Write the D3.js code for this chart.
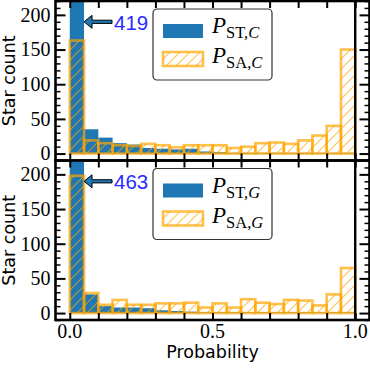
<!DOCTYPE html>
<html>
<head>
<meta charset="utf-8">
<script src="https://cdn.jsdelivr.net/npm/d3@7/dist/d3.min.js"></script>
<style>
body { margin: 0; background: #fff; }
</style>
</head>
<body>
<svg id="chart" width="370" height="370"></svg>
<script>
// histogram bins (left edges), width 0.05
var bins = [0.00, 0.05, 0.10, 0.15, 0.20, 0.25, 0.30, 0.35, 0.40, 0.45,
            0.50, 0.55, 0.60, 0.65, 0.70, 0.75, 0.80, 0.85, 0.90, 0.95];
var binWidth = 0.05;

var stC = [419, 35, 23, 15, 13, 8, 7, 6, 7, 3, 2, 1, 1, 1, 1, 1, 1, 1, 1, 1];
var saC = [163, 19, 15, 12, 11, 14, 12, 9, 12, 12, 12, 8, 10, 15, 16, 14, 19, 26, 40, 150];
var stG = [463, 27, 10, 8, 8, 7, 4, 3, 2, 1, 1, 1, 1, 1, 1, 1, 1, 1, 1, 1];
var saG = [198, 29, 12, 19, 12, 12, 14, 14, 15, 8, 14, 8, 20, 15, 13, 19, 18, 11, 27, 65];

var subLetters = ["C", "G"];
var peakLabels = ["419", "463"];
var yTicks = [0, 50, 100, 150, 200];
var yMinor = [-10, 10, 20, 30, 40, 60, 70, 80, 90, 110, 120, 130, 140, 160, 170, 180, 190, 210, 220];
var xTicks = [0, 0.1, 0.2, 0.3, 0.4, 0.5, 0.6, 0.7, 0.8, 0.9, 1.0];
var xTickLabels = [0, 0.5, 1.0];

var blue = "#1f77b4";
var orange = "orange";
var orangeAlpha = 0.7;

var svg = d3.select("#chart");

var left = 55.5, right = 369.5;
var panelBox = [[1, 160.5], [160.5, 320]];

var x = d3.scaleLinear().domain([-0.05, 1.05]).range([left, right]);

// hatch pattern for the SA bars
var defs = svg.append("defs");
var pat = defs.append("pattern")
  .attr("id", "hatch")
  .attr("patternUnits", "userSpaceOnUse")
  .attr("width", 10)
  .attr("height", 10);
pat.append("path")
  .attr("d", "M0,10L10,0M-2,2L2,-2M8,12L12,8")
  .attr("stroke", orange)
  .attr("stroke-opacity", orangeAlpha)
  .attr("stroke-width", 1.1);

var panels = [
  { st: stC, sa: saC, sub: subLetters[0], peak: peakLabels[0] },
  { st: stG, sa: saG, sub: subLetters[1], peak: peakLabels[1] }
];

panels.forEach(function (p, i) {
  var top = panelBox[i][0], bottom = panelBox[i][1];
  var y = d3.scaleLinear().domain([-10, 220]).range([bottom, top]);

  defs.append("clipPath").attr("id", "clip" + i)
    .append("rect")
    .attr("x", left).attr("y", top)
    .attr("width", right - left).attr("height", bottom - top);

  var g = svg.append("g").attr("clip-path", "url(#clip" + i + ")");

  // ST bars (filled blue)
  g.selectAll("rect.st")
    .data(p.st)
    .enter()
    .append("rect")
    .attr("class", "st")
    .attr("x", function (d, j) { return x(bins[j]); })
    .attr("width", function (d, j) { return x(bins[j] + binWidth) - x(bins[j]); })
    .attr("y", function (d) { return y(d); })
    .attr("height", function (d) { return y(0) - y(d); })
    .attr("fill", blue);

  // SA bars (hatched, orange edge)
  g.selectAll("rect.sa")
    .data(p.sa)
    .enter()
    .append("rect")
    .attr("class", "sa")
    .attr("x", function (d, j) { return x(bins[j]); })
    .attr("width", function (d, j) { return x(bins[j] + binWidth) - x(bins[j]); })
    .attr("y", function (d) { return y(d); })
    .attr("height", function (d) { return y(0) - y(d); })
    .attr("fill", "url(#hatch)")
    .attr("stroke", orange)
    .attr("stroke-opacity", orangeAlpha)
    .attr("stroke-width", 2.6);

  // vertical line at 1.0
  g.append("line")
    .attr("x1", x(1)).attr("x2", x(1))
    .attr("y1", top).attr("y2", bottom)
    .attr("stroke", "#000").attr("stroke-width", 2.4);

  // ticks, pointing inward on every side
  var ax = svg.append("g").attr("class", "axes");
  ax.append("g")
    .attr("transform", "translate(" + left + ",0)")
    .call(d3.axisLeft(y).tickValues(yTicks).tickSize(-10).tickPadding(5))
    .call(function (s) {
      s.select(".domain").remove();
      s.selectAll(".tick line").attr("stroke-width", 2);
      s.selectAll("text")
        .attr("font-family", "Liberation Serif")
        .attr("font-size", 20)
        .attr("fill", "#000");
    });
  ax.append("g")
    .attr("transform", "translate(" + left + ",0)")
    .call(d3.axisLeft(y).tickValues(yMinor).tickSize(-5).tickFormat(""))
    .call(function (s) {
      s.select(".domain").remove();
      s.selectAll(".tick line").attr("stroke-width", 1.5);
    });
  ax.append("g")
    .attr("transform", "translate(" + right + ",0)")
    .call(d3.axisRight(y).tickValues(yTicks).tickSize(-10).tickFormat(""))
    .call(function (s) {
      s.select(".domain").remove();
      s.selectAll(".tick line").attr("stroke-width", 2);
    });
  ax.append("g")
    .attr("transform", "translate(" + right + ",0)")
    .call(d3.axisRight(y).tickValues(yMinor).tickSize(-5).tickFormat(""))
    .call(function (s) {
      s.select(".domain").remove();
      s.selectAll(".tick line").attr("stroke-width", 1.5);
    });
  ax.append("g")
    .attr("transform", "translate(0," + top + ")")
    .call(d3.axisTop(x).tickValues(xTicks).tickSize(-7).tickFormat(""))
    .call(function (s) {
      s.select(".domain").remove();
      s.selectAll(".tick line").attr("stroke-width", 2);
    });
  ax.append("g")
    .attr("transform", "translate(0," + bottom + ")")
    .call(d3.axisBottom(x).tickValues(xTicks).tickSize(-7).tickFormat(""))
    .call(function (s) {
      s.select(".domain").remove();
      s.selectAll(".tick line").attr("stroke-width", 2);
    });

  // frame
  svg.append("rect")
    .attr("x", left).attr("y", top)
    .attr("width", right - left).attr("height", bottom - top)
    .attr("fill", "none")
    .attr("stroke", "#000")
    .attr("stroke-width", 2.6);

  // y label
  svg.append("text")
    .attr("transform", "translate(15," + ((top + bottom) / 2) + ") rotate(-90)")
    .attr("text-anchor", "middle")
    .attr("font-family", "DejaVu Sans")
    .attr("font-size", 17.5)
    .text("Star count");

  // arrow annotation pointing at the clipped first bar
  var ay = y(190), tipX = x(0.05), tailX = x(0.148);
  var headX = tipX + 8;
  svg.append("path")
    .attr("d", "M" + tipX + "," + ay +
      "L" + headX + "," + (ay - 6.5) +
      "L" + headX + "," + (ay - 1.6) +
      "L" + tailX + "," + (ay - 1.6) +
      "L" + tailX + "," + (ay + 1.6) +
      "L" + headX + "," + (ay + 1.6) +
      "L" + headX + "," + (ay + 6.5) + "Z")
    .attr("fill", blue)
    .attr("stroke", "#000")
    .attr("stroke-width", 1)
    .attr("stroke-linejoin", "miter");
  svg.append("text")
    .attr("x", x(0.155))
    .attr("y", ay + 8)
    .attr("font-family", "Liberation Sans")
    .attr("font-size", 20.5)
    .attr("fill", "#2a2aff")
    .text(p.peak);

  // legend
  var lg = svg.append("g").attr("transform", "translate(153," + (top + 8) + ")");
  lg.append("rect")
    .attr("x", 0).attr("y", 0)
    .attr("width", 119).attr("height", 71)
    .attr("rx", 4)
    .attr("fill", "#fff").attr("fill-opacity", 0.85)
    .attr("stroke", "#333").attr("stroke-width", 1.2);
  lg.append("rect")
    .attr("x", 10).attr("y", 15)
    .attr("width", 40).attr("height", 14)
    .attr("fill", blue);
  lg.append("rect")
    .attr("x", 10).attr("y", 43)
    .attr("width", 40).attr("height", 14)
    .attr("fill", "url(#hatch)")
    .attr("stroke", orange).attr("stroke-opacity", orangeAlpha)
    .attr("stroke-width", 2.6);
  var names = ["ST,", "SA,"];
  names.forEach(function (nm, k) {
    var t = lg.append("text")
      .attr("x", 59).attr("y", 24 + k * 30)
      .attr("font-family", "Liberation Serif")
      .attr("font-size", 23);
    t.append("tspan").attr("font-style", "italic").text("P");
    t.append("tspan").attr("font-size", 16.5).attr("dy", 5).text(nm);
    t.append("tspan").attr("font-size", 16.5).attr("font-style", "italic").text(p.sub);
  });
});

// x tick labels and x label (bottom panel only)
var xb = panelBox[1][1];
svg.append("g")
  .selectAll("text")
  .data(xTickLabels)
  .enter()
  .append("text")
  .attr("x", function (d) { return x(d); })
  .attr("y", xb + 17.5)
  .attr("text-anchor", "middle")
  .attr("font-family", "Liberation Serif")
  .attr("font-size", 20)
  .text(function (d) { return d3.format(".1f")(d); });

svg.append("text")
  .attr("x", (left + right) / 2)
  .attr("y", xb + 37.5)
  .attr("text-anchor", "middle")
  .attr("font-family", "DejaVu Sans")
  .attr("font-size", 17.5)
  .text("Probability");
</script>
</body>
</html>
